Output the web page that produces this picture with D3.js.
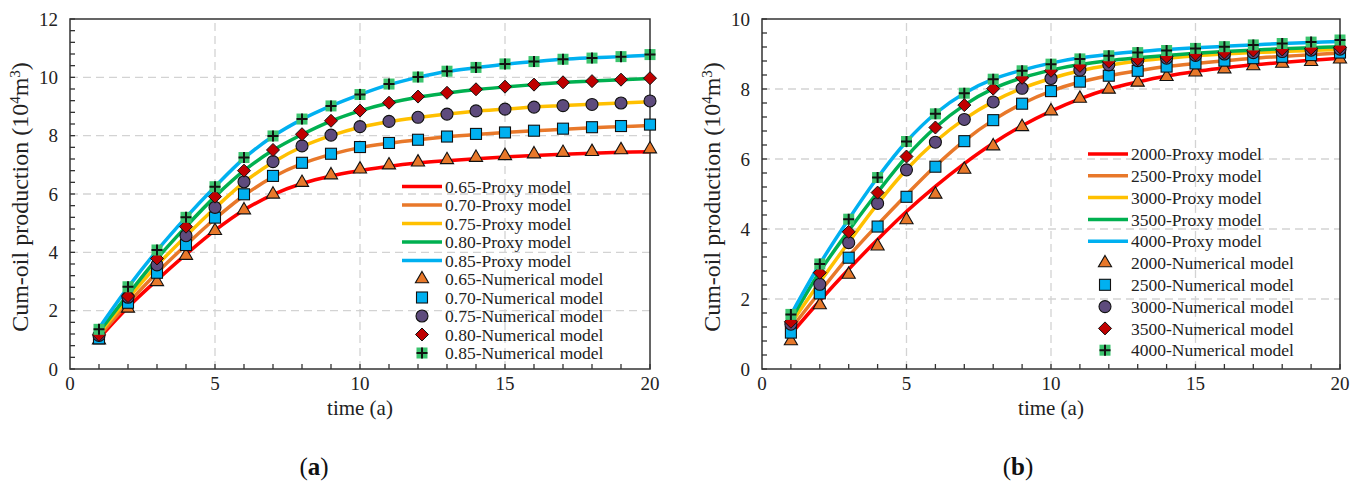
<!DOCTYPE html>
<html>
<head>
<meta charset="utf-8">
<script src="https://cdn.jsdelivr.net/npm/d3@7"></script>
<style>
  body { margin: 0; background: #fff; }
  svg { font-family: "Liberation Serif", "Times New Roman", serif; }
</style>
</head>
<body>
<svg id="chart" width="1353" height="481"></svg>
<script>
// time steps (years)
var years = d3.range(1, 21);

// panel (a): recovery factor cases
var casesA = ["0.65", "0.70", "0.75", "0.80", "0.85"];
var proxyA = [
  [1.05, 2.12, 3.05, 3.93, 4.75, 5.45, 5.98, 6.36, 6.62, 6.80, 6.95, 7.06, 7.14, 7.21, 7.27, 7.32, 7.36, 7.40, 7.43, 7.45],
  [1.12, 2.25, 3.30, 4.25, 5.15, 5.95, 6.58, 7.04, 7.36, 7.59, 7.74, 7.86, 7.96, 8.04, 8.11, 8.17, 8.22, 8.27, 8.31, 8.35],
  [1.20, 2.42, 3.55, 4.56, 5.52, 6.40, 7.09, 7.62, 8.00, 8.29, 8.48, 8.62, 8.74, 8.84, 8.91, 8.98, 9.03, 9.08, 9.12, 9.16],
  [1.27, 2.55, 3.78, 4.88, 5.91, 6.80, 7.50, 8.04, 8.50, 8.85, 9.12, 9.32, 9.46, 9.58, 9.67, 9.75, 9.82, 9.87, 9.92, 9.96],
  [1.40, 2.80, 4.06, 5.20, 6.25, 7.22, 7.98, 8.56, 9.02, 9.41, 9.75, 10.00, 10.20, 10.33, 10.45, 10.54, 10.62, 10.67, 10.71, 10.76]
];
var numA = [
  [0.99, 2.08, 2.99, 3.89, 4.74, 5.45, 5.99, 6.39, 6.65, 6.85, 6.99, 7.09, 7.17, 7.25, 7.31, 7.37, 7.42, 7.45, 7.51, 7.54],
  [1.05, 2.27, 3.30, 4.25, 5.19, 5.99, 6.62, 7.07, 7.38, 7.61, 7.75, 7.86, 7.97, 8.06, 8.11, 8.17, 8.24, 8.29, 8.33, 8.38],
  [1.15, 2.46, 3.57, 4.57, 5.54, 6.42, 7.11, 7.65, 8.02, 8.31, 8.49, 8.63, 8.74, 8.85, 8.91, 8.98, 9.03, 9.07, 9.12, 9.19],
  [1.17, 2.50, 3.79, 4.88, 5.91, 6.80, 7.51, 8.05, 8.51, 8.86, 9.13, 9.34, 9.47, 9.59, 9.68, 9.75, 9.83, 9.87, 9.92, 9.97],
  [1.36, 2.82, 4.08, 5.20, 6.25, 7.25, 7.99, 8.57, 9.02, 9.41, 9.77, 10.01, 10.21, 10.34, 10.46, 10.54, 10.62, 10.66, 10.71, 10.78]
];

// panel (b): injection rate cases
var casesB = ["2000", "2500", "3000", "3500", "4000"];
var proxyB = [
  [1.00, 1.95, 2.85, 3.70, 4.50, 5.22, 5.87, 6.45, 6.95, 7.37, 7.72, 8.00, 8.20, 8.37, 8.50, 8.60, 8.69, 8.76, 8.82, 8.88],
  [1.15, 2.20, 3.22, 4.12, 4.98, 5.80, 6.52, 7.11, 7.58, 7.94, 8.20, 8.38, 8.52, 8.64, 8.73, 8.81, 8.88, 8.93, 8.98, 9.03],
  [1.30, 2.48, 3.62, 4.72, 5.70, 6.50, 7.14, 7.64, 8.02, 8.30, 8.52, 8.68, 8.80, 8.88, 8.95, 9.00, 9.04, 9.07, 9.10, 9.13],
  [1.40, 2.78, 3.95, 5.05, 6.07, 6.90, 7.54, 8.01, 8.32, 8.54, 8.70, 8.81, 8.89, 8.96, 9.02, 9.07, 9.11, 9.15, 9.18, 9.21],
  [1.55, 3.00, 4.28, 5.47, 6.50, 7.30, 7.88, 8.28, 8.54, 8.74, 8.89, 8.99, 9.07, 9.13, 9.18, 9.22, 9.26, 9.30, 9.33, 9.36]
];
var numB = [
  [0.80, 1.83, 2.70, 3.51, 4.26, 4.99, 5.70, 6.37, 6.92, 7.37, 7.73, 7.99, 8.19, 8.35, 8.48, 8.57, 8.66, 8.73, 8.78, 8.85],
  [1.04, 2.16, 3.18, 4.07, 4.92, 5.78, 6.51, 7.11, 7.58, 7.94, 8.21, 8.38, 8.52, 8.64, 8.73, 8.81, 8.88, 8.92, 8.97, 9.04],
  [1.28, 2.42, 3.61, 4.73, 5.69, 6.48, 7.13, 7.63, 8.02, 8.30, 8.54, 8.69, 8.81, 8.88, 8.96, 9.00, 9.04, 9.07, 9.11, 9.14],
  [1.35, 2.75, 3.92, 5.04, 6.07, 6.90, 7.54, 8.01, 8.32, 8.52, 8.66, 8.78, 8.85, 8.92, 8.99, 9.04, 9.10, 9.13, 9.16, 9.19],
  [1.56, 3.00, 4.28, 5.47, 6.50, 7.29, 7.88, 8.28, 8.52, 8.71, 8.86, 8.95, 9.04, 9.10, 9.16, 9.21, 9.26, 9.30, 9.34, 9.40]
];

var xTicks = [0, 5, 10, 15, 20];
var lineColors = ["#ff0000", "#e8782a", "#ffc000", "#00b050", "#00b0f0"];
var markerFill = ["#e8782a", "#00b0f0", "#5e4b7d", "#c00000", "#00b050"];

var svg = d3.select("#chart");

function drawPanel(opt) {
  var g = svg.append("g");
  var x = d3.scaleLinear().domain([0, 20]).range([opt.left, opt.right]);
  var y = d3.scaleLinear().domain([0, opt.ymax]).range([369, 19]);

  // dashed grid
  g.selectAll(".gx").data([5, 10, 15]).enter().append("line")
    .attr("x1", d => x(d)).attr("x2", d => x(d))
    .attr("y1", y(0)).attr("y2", y(opt.ymax))
    .attr("stroke", "#d3d3d3").attr("stroke-width", 1.3).attr("stroke-dasharray", "8,5");
  g.selectAll(".gy").data(opt.yTicks.filter(d => d > 0 && d < opt.ymax)).enter().append("line")
    .attr("x1", x(0)).attr("x2", x(20))
    .attr("y1", d => y(d)).attr("y2", d => y(d))
    .attr("stroke", "#d3d3d3").attr("stroke-width", 1.3).attr("stroke-dasharray", "8,5");

  // frame
  g.append("rect").attr("x", x(0)).attr("y", y(opt.ymax))
    .attr("width", x(20) - x(0)).attr("height", y(0) - y(opt.ymax))
    .attr("fill", "none").attr("stroke", "#333").attr("stroke-width", 1.5);

  // inner ticks
  var minor = d3.range(0, opt.ymax + 0.001, 0.4);
  g.selectAll(".my").data(minor).enter().append("line")
    .attr("x1", x(0)).attr("x2", x(0) + 5)
    .attr("y1", d => y(d)).attr("y2", d => y(d))
    .attr("stroke", "#333").attr("stroke-width", 1.3);
  g.selectAll(".mx").data(years).enter().append("line")
    .attr("x1", d => x(d)).attr("x2", d => x(d))
    .attr("y1", y(0)).attr("y2", y(0) - 5)
    .attr("stroke", "#333").attr("stroke-width", 1.3);

  // tick labels
  g.selectAll(".ty").data(opt.yTicks).enter().append("text")
    .attr("x", x(0) - 12).attr("y", d => y(d)).attr("dy", "0.35em")
    .attr("text-anchor", "end").attr("font-size", 19).attr("fill", "#222")
    .text(d => d);
  g.selectAll(".tx").data(xTicks).enter().append("text")
    .attr("x", d => x(d)).attr("y", 390)
    .attr("text-anchor", "middle").attr("font-size", 19).attr("fill", "#222")
    .text(d => d);

  // axis titles
  g.append("text").attr("x", (x(0) + x(20)) / 2).attr("y", 415)
    .attr("text-anchor", "middle").attr("font-size", 21).attr("fill", "#222")
    .text("time (a)");
  var yt = g.append("text")
    .attr("transform", "translate(" + (x(0) - 42) + "," + ((y(0) + y(opt.ymax)) / 2 + 3) + ") rotate(-90)")
    .attr("text-anchor", "middle").attr("font-size", 24).attr("fill", "#222");
  yt.append("tspan").text("Cum-oil production (10");
  yt.append("tspan").attr("font-size", 15).attr("baseline-shift", "super").text("4");
  yt.append("tspan").text("m");
  yt.append("tspan").attr("font-size", 15).attr("baseline-shift", "super").text("3");
  yt.append("tspan").text(")");

  // proxy curves
  var line = d3.line().x((d, i) => x(years[i])).y(d => y(d)).curve(d3.curveCatmullRom);
  g.selectAll(".proxy").data(opt.proxy).enter().append("path")
    .attr("d", line).attr("fill", "none")
    .attr("stroke", (d, i) => lineColors[i]).attr("stroke-width", 3.5);

  // numerical markers
  opt.num.forEach(function (s, k) {
    s.forEach(function (v, i) {
      drawMarker(g, k, x(years[i]), y(v));
    });
  });

  // legend
  var lg = g.append("g");
  opt.cases.forEach(function (c, k) {
    var yy = opt.legY + k * opt.legStep;
    lg.append("line").attr("x1", opt.legX).attr("x2", opt.legX + 40)
      .attr("y1", yy).attr("y2", yy)
      .attr("stroke", lineColors[k]).attr("stroke-width", 3.5);
    lg.append("text").attr("x", opt.legX + 43).attr("y", yy).attr("dy", "0.35em")
      .attr("font-size", 17.5).attr("fill", "#222").text(c + "-Proxy model");
  });
  opt.cases.forEach(function (c, k) {
    var yy = opt.legY + (k + 5) * opt.legStep;
    drawMarker(lg, k, opt.legX + opt.legMk, yy);
    lg.append("text").attr("x", opt.legX + 43).attr("y", yy).attr("dy", "0.35em")
      .attr("font-size", 17.5).attr("fill", "#222").text(c + "-Numerical model");
  });

  // panel label
  var pl = svg.append("text").attr("x", opt.tagX).attr("y", 475)
    .attr("text-anchor", "middle").attr("font-size", 25).attr("fill", "#111");
  pl.append("tspan").text("(");
  pl.append("tspan").attr("font-weight", "bold").text(opt.tag);
  pl.append("tspan").text(")");
}

function drawMarker(g, k, cx, cy) {
  if (k === 0) {
    var sym = d3.symbol().type(d3.symbolTriangle).size(75);
    g.append("path").attr("d", sym()).attr("transform", "translate(" + cx + "," + cy + ")")
      .attr("fill", markerFill[k]).attr("stroke", "#111").attr("stroke-width", 1.1);
  } else if (k === 1) {
    g.append("rect").attr("x", cx - 5.5).attr("y", cy - 5.5).attr("width", 11).attr("height", 11)
      .attr("fill", markerFill[k]).attr("stroke", "#111").attr("stroke-width", 1.1);
  } else if (k === 2) {
    g.append("circle").attr("cx", cx).attr("cy", cy).attr("r", 6)
      .attr("fill", markerFill[k]).attr("stroke", "#111").attr("stroke-width", 1.1);
  } else if (k === 3) {
    var r = 6.5;
    g.append("path")
      .attr("d", "M" + cx + "," + (cy - r) + "L" + (cx + r) + "," + cy + "L" + cx + "," + (cy + r) + "L" + (cx - r) + "," + cy + "Z")
      .attr("fill", markerFill[k]).attr("stroke", "#111").attr("stroke-width", 1);
  } else {
    g.append("rect").attr("x", cx - 5.5).attr("y", cy - 5.5).attr("width", 11).attr("height", 11)
      .attr("fill", "#3cc46e");
    g.append("path").attr("d", "M" + (cx - 5.5) + "," + cy + "H" + (cx + 5.5) + "M" + cx + "," + (cy - 5.5) + "V" + (cy + 5.5))
      .attr("stroke", "#111").attr("stroke-width", 2);
  }
}

drawPanel({ left: 70, right: 650, ymax: 12, yTicks: [0, 2, 4, 6, 8, 10, 12],
  proxy: proxyA, num: numA, cases: casesA, tag: "a", tagX: 314,
  legX: 402, legY: 186.5, legStep: 18.5, legMk: 20 });
drawPanel({ left: 762, right: 1340, ymax: 10, yTicks: [0, 2, 4, 6, 8, 10],
  proxy: proxyB, num: numB, cases: casesB, tag: "b", tagX: 1018,
  legX: 1088, legY: 154, legStep: 21.8, legMk: 17 });
</script>
</body>
</html>
